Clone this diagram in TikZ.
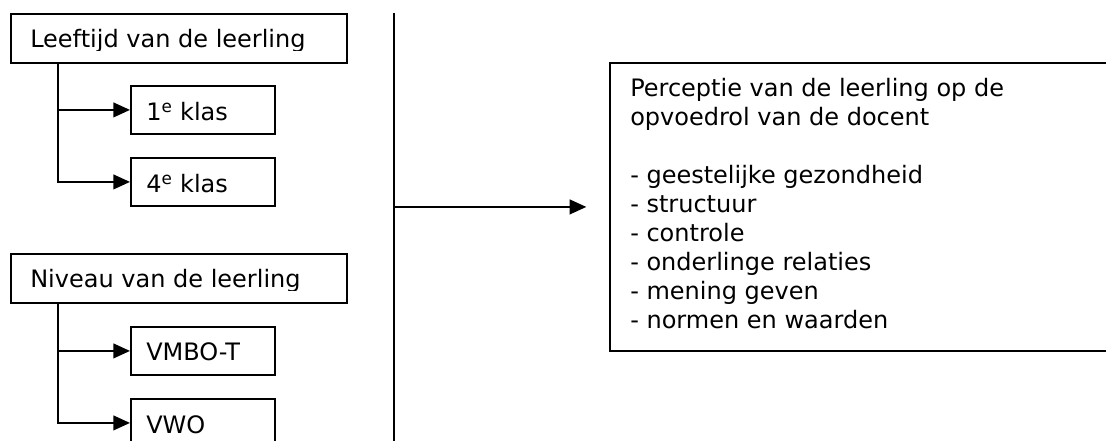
\documentclass[tikz,border=0pt]{standalone}
\usepackage{fontspec}
\setmainfont{DejaVu Sans}
\usetikzlibrary{arrows.meta,calc}
\begin{document}
\begin{tikzpicture}[x=0.75pt,y=-0.75pt,
  every node/.style={font=\fontsize{18}{21.75}\selectfont},
  bigbox/.style={draw, line width=1.4pt, inner sep=0, minimum width=252pt, minimum height=36.75pt, anchor=north west},
  smallbox/.style={draw, line width=1.4pt, inner sep=0, minimum width=108pt, minimum height=36pt, anchor=north west},
  lbl/.style={anchor=base west, inner sep=0},
  arr/.style={line width=1.5pt, -{Triangle[length=12.5pt,width=11pt]}},
  conn/.style={line width=1.5pt}]
\useasboundingbox (0,0) rectangle (1106,441);

% left column: age
\node[bigbox] (leef) at (10,13) {};
\begin{scope}
\clip (10,13) rectangle (346,50.5);
\node[lbl] (leeftxt) at (30,48) {Leeftijd van de leerling};
\end{scope}
\node[smallbox] (k1) at (130,85) {};
\node[lbl] (k1txt) at (146,121) {1\textsuperscript{e} klas};
\node[smallbox] (k4) at (130,157) {};
\node[lbl] (k4txt) at (146,193) {4\textsuperscript{e} klas};
\coordinate (leefstem) at ($(leef.south west)+(48,0)$);
\draw[arr] (leefstem) |- (k1.west);
\draw[arr] (leefstem) |- (k4.west);

% left column: level
\node[bigbox] (niv) at (10,253) {};
\begin{scope}
\clip (10,253) rectangle (346,290.5);
\node[lbl] (nivtxt) at (30,288) {Niveau van de leerling};
\end{scope}
\node[smallbox] (vmbo) at (130,326) {};
\node[lbl] (vmbotxt) at (146,361) {VMBO-T};
\node[smallbox] (vwo) at (130,398) {};
\node[lbl] (vwotxt) at (146,433) {VWO};
\coordinate (nivstem) at ($(niv.south west)+(48,0)$);
\draw[arr] (nivstem) |- (vmbo.west);
\draw[arr] (nivstem) |- (vwo.west);

% divider and main arrow
\coordinate (dtop) at (394,13);
\coordinate (dbot) at (394,445);
\draw[conn] (dtop) -- (dbot);
\node[draw, line width=1.4pt, inner sep=0, minimum width=390pt, minimum height=216pt, anchor=north west] (perc) at (609,62) {};
\coordinate (dmid) at (dtop |- perc.west);
\draw[arr, shorten >=17pt] (dmid) -- (perc.west);
\node[anchor=north west, inner sep=0, align=left] (perctxt) at (630,78)
  {Perceptie van de leerling op de\\
   opvoedrol van de docent\\[21.75pt]
   - geestelijke gezondheid\\
   - structuur\\
   - controle\\
   - onderlinge relaties\\
   - mening geven\\
   - normen en waarden};
\end{tikzpicture}
\end{document}
